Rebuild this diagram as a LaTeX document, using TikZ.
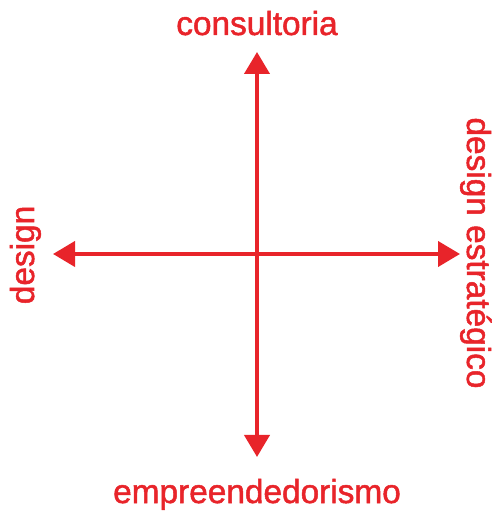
\documentclass[tikz,border=0pt]{standalone}
\usepackage{fontspec}
\setmainfont{Liberation Sans}[UprightFeatures={FakeBold=1.5}]
\usetikzlibrary{arrows.meta}
\definecolor{eixo}{RGB}{232,36,42}
\tikzset{axis/.style={draw=eixo, line width=0.08cm, {Triangle[width=0.5cm,length=0.44cm]}-{Triangle[width=0.5cm,length=0.44cm]}},
	label/.style={text=eixo, font=\fontsize{19}{23}\selectfont, inner sep=0pt, anchor=base}}

\begin{document}
\begin{tikzpicture}
	\useasboundingbox (0,0) rectangle (10,10.26);
	\coordinate (top) at (5.14,9.22);
	\coordinate (bottom) at (5.14,1.12);
	\coordinate (left) at (1.06,5.18);
	\coordinate (right) at (9.2,5.18);
	\node[label] (cons) at (5.14,9.56) {consultoria};
	\node[label] (emp) at (5.14,0.2) {empreendedorismo};
	\node[label, rotate=90] (des) at (0.68,5.16) {design};
	\node[label, rotate=-90] (estr) at (9.34,5.2) {design estratégico};
	\draw[axis] (top) -- (bottom);
	\draw[axis] (left) -- (right);
\end{tikzpicture}
\end{document}
